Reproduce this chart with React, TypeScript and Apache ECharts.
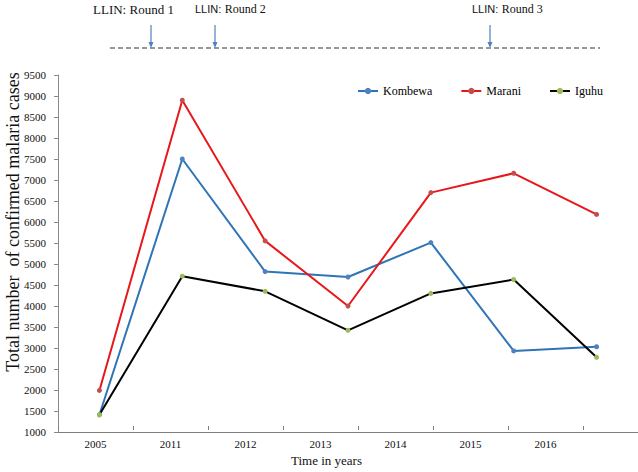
import React, { useEffect, useRef } from "react";
import * as echarts from "echarts";

const years = ["2005", "2011", "2012", "2013", "2014", "2015", "2016"];
const kombewa = [1410, 7500, 4820, 4690, 5510, 2930, 3030];
const marani = [1990, 8900, 5550, 4000, 6700, 7160, 6180];
const iguhu = [1410, 4710, 4350, 3420, 4300, 4630, 2780];
const rounds = ["Round 1", "Round 2", "Round 3"];

const SERIF = "'Liberation Serif', 'Times New Roman', serif";
const SANS = "'Liberation Sans', Arial, sans-serif";

function arrow(x: number) {
  return [
    { type: "line", shape: { x1: x, y1: 25, x2: x, y2: 43 }, style: { stroke: "#4f81bd", lineWidth: 1.2 } },
    { type: "polygon", shape: { points: [[x - 2.5, 42], [x + 2.5, 42], [x, 48]] }, style: { fill: "#4f81bd" } },
  ];
}

export default function App() {
  const ref = useRef<HTMLDivElement>(null);
  useEffect(() => {
    const chart = echarts.init(ref.current!, null, { renderer: "svg" });
    const mk = (name: string, data: number[], line: string, dot: string) => ({
      name,
      type: "line",
      xAxisIndex: 0,
      yAxisIndex: 0,
      data,
      symbol: "circle",
      symbolSize: 5,
      showSymbol: true,
      lineStyle: { color: line, width: 2 },
      itemStyle: { color: dot },
    });
    chart.setOption({
      animation: false,
      backgroundColor: "#ffffff",
      textStyle: { fontFamily: SERIF },
      grid: [
        { left: 58, right: 0, top: 75, bottom: 40 },
        { left: 58, width: 525, top: 75, bottom: 40 },
      ],
      legend: {
        left: 357,
        top: 85,
        padding: 0,
        itemWidth: 20,
        itemHeight: 8,
        itemGap: 28,
        textStyle: { fontFamily: SERIF, fontSize: 12, color: "#000" },
        data: ["Kombewa", "Marani", "Iguhu"],
      },
      xAxis: [
        {
          gridIndex: 0,
          type: "category",
          data: years,
          boundaryGap: true,
          axisLabel: { show: false },
          axisTick: { show: false },
          axisLine: { lineStyle: { color: "#7f7f7f", width: 1 } },
        },
        {
          gridIndex: 1,
          type: "category",
          data: years,
          boundaryGap: true,
          axisLine: { show: false },
          axisTick: { show: true, inside: true, length: 4, lineStyle: { color: "#7f7f7f" } },
          axisLabel: { fontFamily: SERIF, fontSize: 11, color: "#111", margin: 8 },
          name: "Time in years",
          nameLocation: "middle",
          nameGap: 24,
          nameTextStyle: { fontFamily: SERIF, fontSize: 13, color: "#111", padding: [0, 0, 0, 12] },
        },
      ],
      yAxis: [
        {
          gridIndex: 0,
          type: "value",
          min: 1000,
          max: 9500,
          interval: 500,
          splitLine: { show: false },
          axisLine: { show: true, lineStyle: { color: "#8a8a8a" } },
          axisTick: { show: true, length: 4, lineStyle: { color: "#8a8a8a" } },
          axisLabel: {
            fontFamily: SERIF,
            fontSize: 11,
            color: "#111",
            margin: 12,
            formatter: (v: number) => String(v),
          },
        },
        {
          gridIndex: 1,
          type: "value",
          min: 1000,
          max: 9500,
          show: false,
        },
      ],
      series: [
        mk("Kombewa", kombewa, "#2e75b6", "#4f81bd"),
        mk("Marani", marani, "#e8171b", "#c0504d"),
        mk("Iguhu", iguhu, "#000000", "#9bbb59"),
      ],
      graphic: [
        {
          type: "text",
          x: 13,
          y: 222,
          rotation: Math.PI / 2,
          style: {
            text: "Total number  of confirmed malaria cases",
            fontFamily: SERIF,
            fontSize: 18,
            fill: "#111",
            textAlign: "center",
            textVerticalAlign: "middle",
          },
        },
        {
          type: "line",
          shape: { x1: 110, y1: 48, x2: 600, y2: 48 },
          style: { stroke: "#333", lineWidth: 1, lineDash: [5, 3] },
        },
        ...arrow(151),
        ...arrow(215),
        ...arrow(490),
        {
          type: "text",
          x: 93,
          y: 9,
          style: { text: "LLIN: " + rounds[0], fontFamily: SERIF, fontSize: 13, fill: "#111", textVerticalAlign: "middle" },
        },
        {
          type: "text",
          x: 195,
          y: 9,
          style: {
            text: "{a|LLIN:} {b|" + rounds[1] + "}",
            textVerticalAlign: "middle",
            rich: {
              a: { fontFamily: SANS, fontSize: 11, fill: "#111" },
              b: { fontFamily: SERIF, fontSize: 12, fill: "#111" },
            },
          },
        },
        {
          type: "text",
          x: 472,
          y: 9,
          style: {
            text: "{a|LLIN:} {b|" + rounds[2] + "}",
            textVerticalAlign: "middle",
            rich: {
              a: { fontFamily: SANS, fontSize: 11, fill: "#111" },
              b: { fontFamily: SERIF, fontSize: 12, fill: "#111" },
            },
          },
        },
      ],
    });
    return () => chart.dispose();
  }, []);
  return <div ref={ref} style={{ position: "absolute", left: 0, top: 0, width: 638, height: 472 }} />;
}
